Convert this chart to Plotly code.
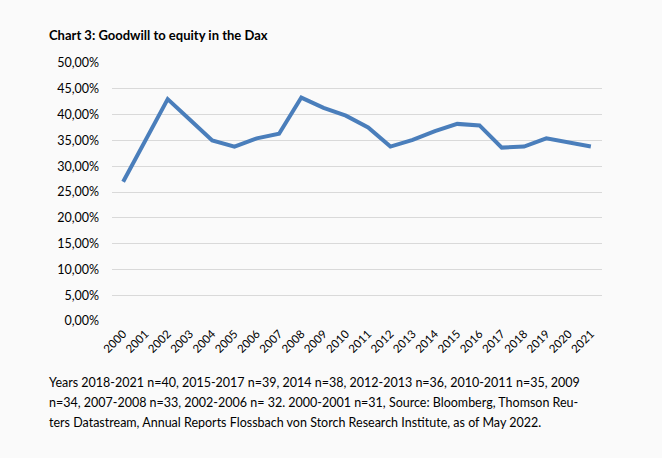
import plotly.graph_objects as go

years = [str(y) for y in range(2000, 2022)]
goodwill_to_equity = [0.270, 0.350, 0.430, 0.390, 0.350, 0.338, 0.354, 0.363, 0.433,
                      0.413, 0.398, 0.375, 0.338, 0.351, 0.368, 0.382, 0.379, 0.336,
                      0.338, 0.354, 0.346, 0.338]
y_ticks = [0.0, 0.05, 0.10, 0.15, 0.20, 0.25, 0.30, 0.35, 0.40, 0.45, 0.50]

title_text = "<b>Chart 3: Goodwill to equity in the Dax</b>"
note_lines = [
    "Years 2018-2021 n=40, 2015-2017 n=39, 2014 n=38, 2012-2013 n=36, 2010-2011 n=35, 2009",
    "n=34, 2007-2008 n=33, 2002-2006 n= 32. 2000-2001 n=31, Source: Bloomberg, Thomson Reu-",
    "ters Datastream, Annual Reports Flossbach von Storch Research Institute, as of May 2022.",
]

FONT = "Lato, Carlito, Calibri, 'Open Sans', sans-serif"
bg = "#FAFAFA"

fig = go.Figure()
fig.add_trace(go.Scatter(
    x=years, y=goodwill_to_equity, mode="lines",
    line=dict(color="#4A7EBB", width=4, shape="linear"),
    hoverinfo="skip",
))

L, R, T, B = 112, 60, 63, 137
W, H = 662, 458
pw, ph = W - L - R, H - T - B

def px(x):
    return (x - L) / pw

def py(y):
    return (H - B - y) / ph

annotations = [dict(text=title_text, x=px(47), y=py(35), xref="paper", yref="paper",
                    xanchor="left", yanchor="middle", showarrow=False,
                    font=dict(family=FONT, size=13, color="#000000"))]
for i, line in enumerate(note_lines):
    annotations.append(dict(text=line, x=px(47), y=py(382 + 20 * i), xref="paper", yref="paper",
                            xanchor="left", yanchor="middle", showarrow=False,
                            font=dict(family=FONT, size=12.5, color="#000000")))

fig.update_layout(
    width=W, height=H,
    margin=dict(l=L, r=R, t=T, b=B),
    paper_bgcolor=bg, plot_bgcolor=bg,
    separators=",.",
    showlegend=False,
    font=dict(family=FONT, size=12, color="#000000"),
    annotations=annotations,
    xaxis=dict(type="category", range=[-0.5, len(years) - 0.5], tickangle=-45,
               showgrid=False, showline=False, ticks="", tickfont=dict(size=11.5),
               zeroline=False, ticklabelstandoff=3),
    yaxis=dict(range=[0, 0.5], tickvals=y_ticks, tickformat=".2%", showgrid=True,
               gridcolor="#D9D9D9", gridwidth=1, zeroline=False, showline=False,
               ticks="", ticklabelstandoff=12, tickfont=dict(size=12.5)),
)

fig.write_html("out.html")
